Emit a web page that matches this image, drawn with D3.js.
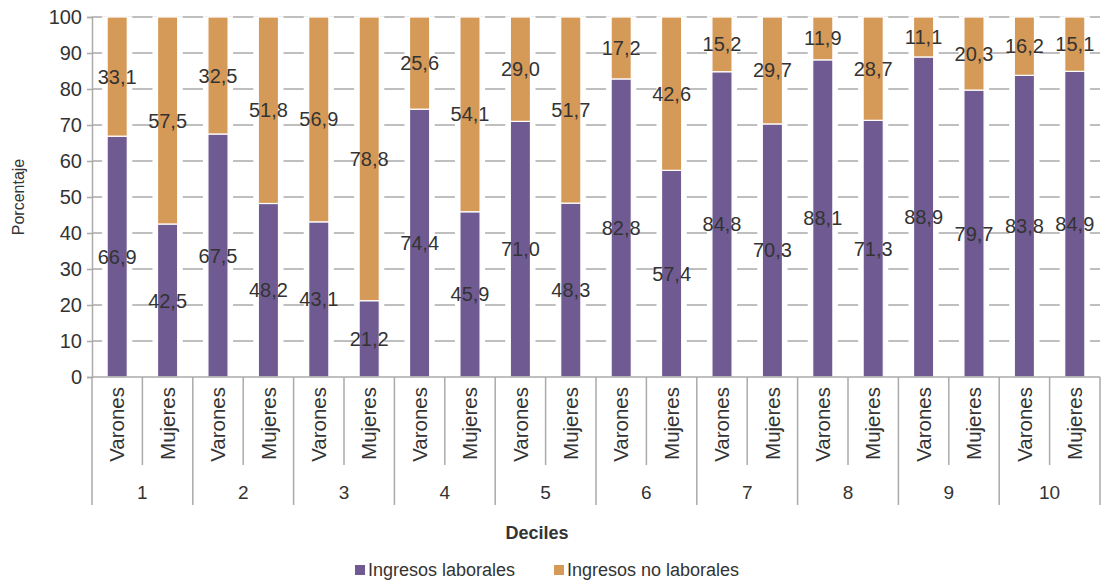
<!DOCTYPE html>
<html>
<head>
<meta charset="utf-8">
<script src="https://cdn.jsdelivr.net/npm/d3@7"></script>
<style>
    body { margin: 0; background: #fff; }
    text { font-family: "Liberation Sans", Arial, sans-serif; fill: #333; }
</style>
</head>
<body>
<div id="chart"></div>
<script>
// Data (percent of income by decile and sex)
var deciles = ["1", "2", "3", "4", "5", "6", "7", "8", "9", "10"];
var sexes = ["Varones", "Mujeres"];
var laborales = [66.9, 42.5, 67.5, 48.2, 43.1, 21.2, 74.4, 45.9, 71.0, 48.3,
                 82.8, 57.4, 84.8, 70.3, 88.1, 71.3, 88.9, 79.7, 83.8, 84.9];
var noLaborales = [33.1, 57.5, 32.5, 51.8, 56.9, 78.8, 25.6, 54.1, 29.0, 51.7,
                   17.2, 42.6, 15.2, 29.7, 11.9, 28.7, 11.1, 20.3, 16.2, 15.1];
var yTicks = [0, 10, 20, 30, 40, 50, 60, 70, 80, 90, 100];
var seriesNames = ["Ingresos laborales", "Ingresos no laborales"];
var colors = ["#6f5b92", "#d69a58"];

var width = 1104, height = 586;
var margin = { top: 17, right: 4, bottom: 209, left: 92 };
var w = width - margin.left - margin.right;
var h = height - margin.top - margin.bottom;

var svg = d3.select("#chart").append("svg")
    .attr("width", width)
    .attr("height", height);

var g = svg.append("g")
    .attr("transform", "translate(" + margin.left + "," + margin.top + ")");

// build rows
var rows = [];
deciles.forEach(function(dec, i) {
    sexes.forEach(function(s, j) {
        var k = i * 2 + j;
        rows.push({ key: dec + "-" + s, decile: dec, sex: s, lab: laborales[k], nolab: noLaborales[k] });
    });
});

var x = d3.scaleBand()
    .domain(rows.map(function(d) { return d.key; }))
    .range([0, w])
    .paddingInner(0.6)
    .paddingOuter(0.3);

var y = d3.scaleLinear()
    .domain([0, 100])
    .range([h, 0]);

var slotW = w / rows.length;

// gridlines
g.selectAll(".grid")
    .data(yTicks.filter(function(t) { return t > 0; }))
    .enter().append("line")
    .attr("x1", 0).attr("x2", w)
    .attr("y1", function(d) { return y(d); })
    .attr("y2", function(d) { return y(d); })
    .attr("stroke", "#aaa")
    .attr("stroke-width", 1.5);

// y axis
var yAxis = d3.axisLeft(y).tickValues(yTicks).tickSize(5).tickPadding(5);
var ya = g.append("g").call(yAxis);
ya.select(".domain").attr("stroke", "#aaa").attr("stroke-width", 1.5);
ya.selectAll(".tick line").attr("stroke", "#aaa").attr("stroke-width", 1.5);
ya.selectAll(".tick text").style("font-size", "20px").attr("fill", "#333");

// halo behind bars so gridlines stop short of them
g.selectAll(".halo")
    .data(rows)
    .enter().append("rect")
    .attr("x", function(d) { return x(d.key) - 5; })
    .attr("width", x.bandwidth() + 10)
    .attr("y", y(100) - 0.75)
    .attr("height", h - y(100) + 0.75)
    .attr("fill", "#fff");

// stacked bars
var stackData = rows.map(function(d) {
    return [
        { key: d.key, y0: 0, y1: d.lab, v: d.lab, c: 0 },
        { key: d.key, y0: d.lab, y1: d.lab + d.nolab, v: d.nolab, c: 1 }
    ];
});
var segs = [].concat.apply([], stackData);

g.selectAll(".seg")
    .data(segs)
    .enter().append("rect")
    .attr("x", function(d) { return x(d.key); })
    .attr("width", x.bandwidth())
    .attr("y", function(d) { return y(d.y1); })
    .attr("height", function(d) { return y(d.y0) - y(d.y1); })
    .attr("fill", function(d) { return colors[d.c]; })
    .attr("stroke", "#fff")
    .attr("stroke-width", 1.2);

// value labels
g.selectAll(".val")
    .data(segs)
    .enter().append("text")
    .attr("x", function(d) { return x(d.key) + x.bandwidth() / 2; })
    .attr("y", function(d) { return y((d.y0 + d.y1) / 2); })
    .attr("dy", "0.35em")
    .attr("text-anchor", "middle")
    .style("font-size", "20px")
    .text(function(d) { return d3.format(".1f")(d.v).replace(".", ","); });

// x axis baseline
g.append("line")
    .attr("x1", 0).attr("x2", w)
    .attr("y1", h).attr("y2", h)
    .attr("stroke", "#aaa").attr("stroke-width", 1.5);

// separators between sexes and deciles
d3.range(rows.length + 1).forEach(function(i) {
    var isGroup = i % 2 === 0;
    g.append("line")
        .attr("x1", i * slotW).attr("x2", i * slotW)
        .attr("y1", h)
        .attr("y2", h + (isGroup ? 128 : 88))
        .attr("stroke", "#aaa").attr("stroke-width", 1.5);
});

// sex labels (rotated)
g.selectAll(".sexLab")
    .data(rows)
    .enter().append("text")
    .attr("transform", function(d) {
        return "translate(" + (x(d.key) + x.bandwidth() / 2) + "," + (h + 10) + ") rotate(-90)";
    })
    .attr("dy", "0.35em")
    .attr("text-anchor", "end")
    .style("font-size", "20.5px")
    .text(function(d) { return d.sex; });

// decile labels
g.selectAll(".decLab")
    .data(deciles)
    .enter().append("text")
    .attr("x", function(d, i) { return (i * 2 + 1) * slotW; })
    .attr("y", h + 115)
    .attr("dy", "0.35em")
    .attr("text-anchor", "middle")
    .style("font-size", "19px")
    .text(function(d) { return d; });

// axis titles
svg.append("text")
    .attr("transform", "translate(18," + (margin.top + h / 2) + ") rotate(-90)")
    .attr("dy", "0.35em")
    .attr("text-anchor", "middle")
    .style("font-size", "16px")
    .text("Porcentaje");

svg.append("text")
    .attr("x", 537)
    .attr("y", 533)
    .attr("dy", "0.35em")
    .attr("text-anchor", "middle")
    .style("font-size", "18px")
    .style("font-weight", "bold")
    .text("Deciles");

// legend
var legend = svg.append("g");
var legX = [355, 554];
seriesNames.forEach(function(name, i) {
    legend.append("rect")
        .attr("x", legX[i]).attr("y", 565)
        .attr("width", 10).attr("height", 10)
        .attr("fill", colors[i]);
    legend.append("text")
        .attr("x", legX[i] + 13).attr("y", 570)
        .attr("dy", "0.35em")
        .style("font-size", "18px")
        .text(name);
});
</script>
</body>
</html>
